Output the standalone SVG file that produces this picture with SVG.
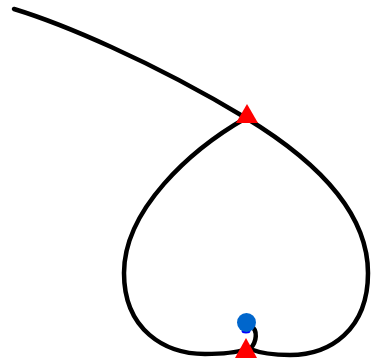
<svg xmlns="http://www.w3.org/2000/svg" width="371" height="364" viewBox="0 0 371 364">
<style>
.curve{fill:none;stroke:#000;stroke-width:4.5;stroke-linecap:round;stroke-linejoin:round}
.tri{fill:#ff0000}
</style>
<rect width="371" height="364" fill="#fff"/>
<g id="connectors">
<path class="curve" d="M14,9 C60,23 150,60 246,118 C320,163 368,215 368,273 C368,330 330,355 290,355 C272,355 260,353 250,349 C257,342 258,330 251,326"/>
<path class="curve" d="M246,118 C190,150 124,210 124,273 C124,330 165,354 205,354 C225,354 238,352 246,349"/>
</g>
<g id="marker-top"><polygon class="tri" points="247,104 236,123 258,123"/></g>
<g id="point">
<ellipse cx="246" cy="331" rx="4.5" ry="2.5" fill="#0000ff"/>
<circle cx="246.5" cy="322.5" r="9.5" fill="#0066cc"/>
</g>
<g id="marker-bottom"><polygon class="tri" points="246,338 235,358 257,358"/></g>
</svg>
